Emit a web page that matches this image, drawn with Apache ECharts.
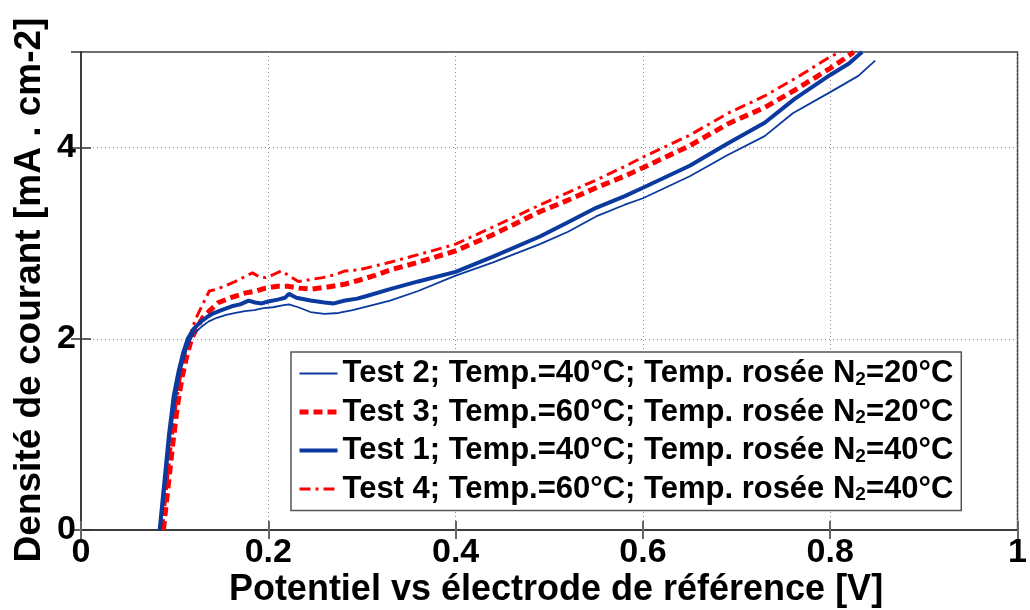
<!DOCTYPE html>
<html>
<head>
<meta charset="utf-8">
<script src="https://cdn.jsdelivr.net/npm/echarts@6/dist/echarts.min.js"></script>
<style>html,body{margin:0;padding:0;background:#fff}#c{width:1030px;height:610px}</style>
</head>
<body>
<div id="c"></div>
<script>
const xTickValues = [0, 0.2, 0.4, 0.6, 0.8, 1];
const yTickValues = [0, 2, 4];

const seriesNames = [
  'Test 2; Temp.=40°C; Temp. rosée N2=20°C',
  'Test 3; Temp.=60°C; Temp. rosée N2=20°C',
  'Test 1; Temp.=40°C; Temp. rosée N2=40°C',
  'Test 4; Temp.=60°C; Temp. rosée N2=40°C'
];

const test2X = [0.085,0.090,0.095,0.100,0.105,0.110,0.115,0.120,0.128,0.136,0.145,0.155,0.165,0.175,0.185,0.195,0.205,0.215,0.222,0.232,0.245,0.260,0.275,0.290,0.306,0.33,0.36,0.40,0.44,0.49,0.52,0.55,0.58,0.60,0.65,0.69,0.73,0.76,0.80,0.83,0.848];
const test2Y = [0,0.45,0.95,1.3,1.6,1.8,1.95,2.05,2.12,2.18,2.22,2.25,2.27,2.29,2.30,2.32,2.33,2.35,2.36,2.33,2.28,2.26,2.27,2.30,2.34,2.40,2.50,2.66,2.80,2.99,3.12,3.28,3.40,3.47,3.70,3.92,4.12,4.36,4.58,4.75,4.91];

const test3X = [0.088,0.093,0.098,0.103,0.108,0.113,0.118,0.124,0.130,0.138,0.147,0.160,0.176,0.187,0.197,0.210,0.221,0.233,0.246,0.262,0.281,0.296,0.313,0.33,0.36,0.40,0.44,0.49,0.52,0.55,0.58,0.60,0.65,0.691,0.73,0.762,0.80,0.815,0.825];
const test3Y = [0,0.45,0.9,1.3,1.6,1.82,2.0,2.12,2.22,2.30,2.38,2.43,2.48,2.50,2.53,2.55,2.55,2.53,2.52,2.54,2.57,2.61,2.66,2.72,2.80,2.92,3.09,3.33,3.45,3.58,3.70,3.79,4.02,4.25,4.42,4.60,4.83,4.93,5.0];

const test1X = [0.084,0.089,0.094,0.099,0.104,0.109,0.114,0.120,0.128,0.135,0.140,0.150,0.161,0.170,0.179,0.186,0.193,0.200,0.210,0.218,0.222,0.230,0.245,0.260,0.270,0.282,0.295,0.306,0.33,0.36,0.40,0.44,0.49,0.52,0.55,0.58,0.60,0.65,0.69,0.73,0.762,0.80,0.82,0.834];
const test1Y = [0,0.5,1.0,1.4,1.65,1.85,2.0,2.1,2.18,2.23,2.26,2.30,2.34,2.36,2.40,2.38,2.37,2.39,2.41,2.43,2.47,2.43,2.40,2.38,2.37,2.40,2.42,2.45,2.52,2.60,2.70,2.86,3.07,3.22,3.37,3.49,3.58,3.81,4.04,4.26,4.51,4.76,4.88,5.0];

const test4X = [0.087,0.092,0.097,0.102,0.107,0.112,0.117,0.122,0.128,0.133,0.137,0.145,0.153,0.165,0.175,0.183,0.190,0.197,0.205,0.214,0.222,0.232,0.245,0.258,0.271,0.282,0.296,0.313,0.33,0.36,0.40,0.44,0.49,0.52,0.55,0.58,0.60,0.65,0.691,0.73,0.762,0.80,0.811];
const test4Y = [0,0.5,0.95,1.35,1.65,1.88,2.05,2.2,2.32,2.42,2.50,2.52,2.55,2.60,2.65,2.69,2.65,2.64,2.67,2.71,2.66,2.60,2.62,2.64,2.67,2.71,2.72,2.76,2.80,2.88,2.99,3.17,3.40,3.53,3.66,3.80,3.90,4.13,4.36,4.54,4.72,4.95,5.0];

const xName = 'Potentiel vs électrode de référence [V]';
const yName = 'Densité de courant [mA . cm-2]';

function pairs(xs, ys) { return xs.map((x, i) => [x, ys[i]]); }

const FONT = "'Liberation Sans', Arial, Helvetica, sans-serif";
const BLUE = '#0a3a9e';
const RED = '#ff0000';

const lineStyles = [
  {color: BLUE, width: 1.8, type: 'solid'},
  {color: RED, width: 5, type: [9, 5]},
  {color: BLUE, width: 4, type: 'solid'},
  {color: RED, width: 3, type: [11, 5, 3, 5]}
];

const chart = echarts.init(document.getElementById('c'), null, {renderer: 'canvas'});

const gridLine = {show: true, lineStyle: {color: '#8a8a8a', width: 1, type: [1, 3]}};
const labelStyle = {fontFamily: FONT, fontWeight: 'bold', fontSize: 34, color: '#000'};

chart.setOption({
  animation: false,
  backgroundColor: '#fff',
  grid: {left: 81, right: 5, top: 52, bottom: 80, show: true, borderColor: '#3a3a3a', borderWidth: 1.5, containLabel: false},
  xAxis: [
    {type: 'value', min: 0, max: 1, interval: 0.2, position: 'bottom',
     axisLine: {show: true, lineStyle: {color: '#3a3a3a', width: 1.5}},
     axisTick: {show: true, inside: true, length: 9, lineStyle: {color: '#666', width: 2}},
     axisLabel: Object.assign({margin: 6, formatter: v => String(+v.toFixed(1))}, labelStyle),
     splitLine: gridLine},
    {type: 'value', min: 0, max: 1, interval: 0.2, position: 'top',
     axisLine: {show: true, lineStyle: {color: '#3a3a3a', width: 1.5}},
     axisTick: {show: true, inside: true, length: 9, lineStyle: {color: '#666', width: 2}},
     axisLabel: {show: false}, splitLine: {show: false}}
  ],
  yAxis: [
    {type: 'value', min: 0, max: 5, interval: 2, position: 'left',
     axisLine: {show: true, lineStyle: {color: '#3a3a3a', width: 1.5}},
     axisTick: {show: true, inside: true, length: 10, lineStyle: {color: '#333', width: 1.5}},
     axisLabel: Object.assign({margin: 5, showMaxLabel: false,
       formatter: v => (yTickValues.indexOf(v) >= 0 ? String(v) : '')}, labelStyle),
     splitLine: gridLine},
    {type: 'value', min: 0, max: 5, interval: 2, position: 'right',
     axisLine: {show: true, lineStyle: {color: '#3a3a3a', width: 1.5}},
     axisTick: {show: true, inside: true, length: 10, lineStyle: {color: '#333', width: 1.5}},
     axisLabel: {show: false}, splitLine: {show: false}}
  ],
  legend: {
    orient: 'vertical', left: 291, top: 352,
    backgroundColor: '#fff', borderColor: '#555', borderWidth: 1.5, borderRadius: 0,
    padding: [6, 8, 6, 6], itemWidth: 38, itemHeight: 14, itemGap: 7.5,
    itemStyle: {opacity: 0},
    data: seriesNames.map((n, i) => ({name: n, lineStyle: Object.assign({}, lineStyles[i])})),
    formatter: name => '{t|' + name.replace('N2', '}{n|N}{s|2}{t|') + '}',
    textStyle: {
      fontFamily: FONT, fontWeight: 'bold', fontSize: 31, color: '#000',
      rich: {
        t: {fontFamily: FONT, fontWeight: 'bold', fontSize: 31, color: '#000', lineHeight: 30},
        n: {fontFamily: FONT, fontWeight: 'bold', fontSize: 31, color: '#000', lineHeight: 30},
        s: {fontFamily: FONT, fontWeight: 'bold', fontSize: 19, color: '#000', lineHeight: 16, padding: [12, 0, 0, 0]}
      }
    }
  },
  graphic: [
    {type: 'text', x: 30, y: 290, rotation: Math.PI / 2,
     style: {text: yName, font: 'bold 37px ' + FONT, fill: '#000', textAlign: 'center', textVerticalAlign: 'middle'}},
    {type: 'text', x: 556, y: 590,
     style: {text: xName, font: 'bold 36px ' + FONT, fill: '#000', textAlign: 'center', textVerticalAlign: 'middle'}}
  ],
  series: [
    {name: seriesNames[0], type: 'line', showSymbol: false, symbol: 'none', clip: true,
     lineStyle: lineStyles[0], itemStyle: {color: BLUE}, data: pairs(test2X, test2Y), z: 3},
    {name: seriesNames[1], type: 'line', showSymbol: false, symbol: 'none', clip: true,
     lineStyle: lineStyles[1], itemStyle: {color: RED}, data: pairs(test3X, test3Y), z: 2},
    {name: seriesNames[2], type: 'line', showSymbol: false, symbol: 'none', clip: true,
     lineStyle: lineStyles[2], itemStyle: {color: BLUE}, data: pairs(test1X, test1Y), z: 4},
    {name: seriesNames[3], type: 'line', showSymbol: false, symbol: 'none', clip: true,
     lineStyle: lineStyles[3], itemStyle: {color: RED}, data: pairs(test4X, test4Y), z: 1}
  ]
});
</script>
</body>
</html>
